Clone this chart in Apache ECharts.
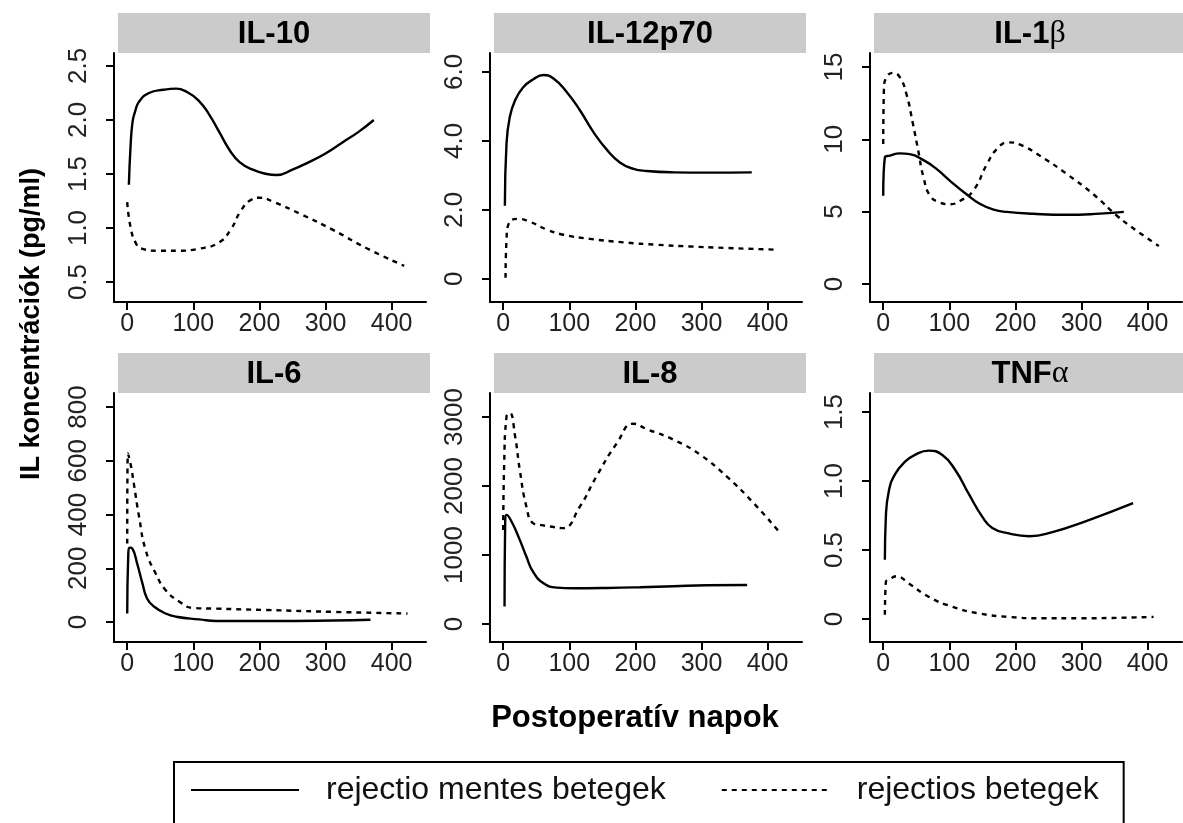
<!DOCTYPE html>
<html><head><meta charset="utf-8">
<script src="https://cdn.jsdelivr.net/npm/echarts@6/dist/echarts.min.js"></script>
<style>html,body{margin:0;padding:0;background:#fff}#chart{width:1183px;height:823px}</style>
</head><body><div id="chart"></div>
<script>
// ---------- DATA ----------
const panelTitles = ['IL-10', 'IL-12p70', 'IL-1β', 'IL-6', 'IL-8', 'TNFα'];
const seriesNames = ['rejectio mentes betegek', 'rejectios betegek'];
const xTicks = [0, 100, 200, 300, 400];
const xTickLabels = ['0', '100', '200', '300', '400'];

// [postoperative day, concentration]
const il10Solid = [[2.5,1.40],[5,1.75],[8,1.98],[12,2.08],[18,2.17],[33,2.25],[55,2.28],[74,2.29],[90,2.26],[108,2.18],[124,2.05],[140,1.88],[155,1.72],[170,1.61],[190,1.54],[211,1.50],[226,1.49],[250,1.54],[275,1.61],[300,1.69],[325,1.79],[350,1.89],[373,2.00]];
const il10Dashed = [[0,1.24],[5,1.01],[13,0.86],[22,0.81],[45,0.79],[75,0.79],[110,0.81],[140,0.87],[157,0.99],[172,1.16],[187,1.26],[200,1.28],[222,1.24],[262,1.13],[312,0.98],[363,0.81],[419,0.65]];

const il12Solid = [[2.5,2.12],[5,3.93],[10,4.70],[18,5.18],[30,5.55],[45,5.78],[61,5.91],[76,5.81],[96,5.42],[116,4.89],[136,4.27],[157,3.74],[177,3.37],[197,3.19],[217,3.13],[258,3.09],[308,3.08],[376,3.09]];
const il12Dashed = [[3.5,0.03],[5,1.14],[8.6,1.62],[23,1.74],[40,1.66],[66,1.43],[91,1.28],[131,1.16],[182,1.06],[232,0.99],[283,0.94],[333,0.90],[409,0.85]];

const il1bSolid = [[0,6.09],[2.5,8.75],[10,8.87],[25,9.03],[40,8.98],[61,8.56],[81,7.94],[101,7.13],[126,6.20],[146,5.55],[167,5.14],[187,4.98],[227,4.85],[278,4.78],[328,4.86],[364,4.98]];
const il1bDashed = [[0,9.68],[1,13.4],[5,14.3],[15,14.6],[25,14.3],[35,13.15],[45,11.06],[53,9.21],[61,7.36],[71,6.09],[86,5.63],[101,5.51],[116,5.74],[136,6.44],[157,8.29],[172,9.33],[189,9.79],[207,9.63],[237,8.87],[278,7.59],[318,6.20],[354,4.70],[384,3.66],[417,2.62]];

const il6Solid = [[0,32],[1.5,243],[4,277],[7.6,274],[15,218],[23,144],[30,88],[41,57],[58,32],[74,20],[109,10],[135,4],[211,4],[312,6],[368,9]];
const il6Dashed = [[0,292],[1,627],[5,589],[10,515],[18,391],[28,267],[43,181],[58,119],[79,76],[99,53],[135,50],[211,45],[312,38],[424,32]];

const il8Solid = [[2,252],[3,1500],[5,1582],[12.6,1485],[25,1219],[35,977],[45,760],[61,590],[81,527],[106,518],[157,522],[207,532],[258,547],[308,561],[369,566]];
const il8Dashed = [[0,1364],[1.5,2332],[5,3009],[10,3058],[18,2719],[25,2235],[35,1703],[45,1461],[56,1437],[71,1413],[90,1389],[116,1703],[141,2138],[172,2622],[197,2903],[217,2825],[258,2670],[298,2453],[338,2138],[379,1751],[417,1340]];

const tnfSolid = [[2.5,0.43],[4,0.74],[8.6,0.93],[18,1.05],[33,1.14],[48,1.19],[69,1.22],[89,1.19],[109,1.08],[129,0.91],[150,0.74],[165,0.66],[190,0.62],[221,0.60],[256,0.63],[307,0.71],[378,0.84]];
const tnfDashed = [[2.5,0.03],[4,0.27],[7.6,0.28],[20,0.31],[38,0.26],[69,0.16],[104,0.09],[145,0.04],[190,0.015],[241,0.005],[297,0.005],[409,0.015]];

const il10Ticks = [0.5, 1, 1.5, 2, 2.5];
const il10TickLabels = ['0.5', '1.0', '1.5', '2.0', '2.5'];
const il12Ticks = [0, 2, 4, 6];
const il12TickLabels = ['0', '2.0', '4.0', '6.0'];
const il1bTicks = [0, 5, 10, 15];
const il1bTickLabels = ['0', '5', '10', '15'];
const il6Ticks = [0, 200, 400, 600, 800];
const il6TickLabels = ['0', '200', '400', '600', '800'];
const il8Ticks = [0, 1000, 2000, 3000];
const il8TickLabels = ['0', '1000', '2000', '3000'];
const tnfTicks = [0, 0.5, 1, 1.5];
const tnfTickLabels = ['0', '0.5', '1.0', '1.5'];

// ---------- BUILD ----------
const solids = [il10Solid, il12Solid, il1bSolid, il6Solid, il8Solid, tnfSolid];
const dasheds = [il10Dashed, il12Dashed, il1bDashed, il6Dashed, il8Dashed, tnfDashed];
const yTicks = [il10Ticks, il12Ticks, il1bTicks, il6Ticks, il8Ticks, tnfTicks];
const yTickLabels = [il10TickLabels, il12TickLabels, il1bTickLabels, il6TickLabels, il8TickLabels, tnfTickLabels];
// axis extents (layout)
const yExtents = [[0.315, 2.62], [-0.67, 6.55], [-1.25, 15.97], [-74, 852], [-261, 3348], [-0.167, 1.638]];
const xExtent = [-20, 452];

const FONT = "'Liberation Sans', Arial, Helvetica, sans-serif";
const colLeft = [114, 490, 870];
const rowTop = [53, 393];
const GW = 312, GH = 249;

const grids = [], xAxes = [], yAxes = [], series = [], graphics = [];
for (let i = 0; i < 6; i++) {
  const c = i % 3, r = Math.floor(i / 3);
  grids.push({ left: colLeft[c], top: rowTop[r], width: GW, height: GH, containLabel: false });
  xAxes.push({
    type: 'value', gridIndex: i, min: xExtent[0], max: xExtent[1],
    splitLine: { show: false },
    axisLine: { show: true, onZero: false, lineStyle: { color: '#000', width: 2 } },
    axisTick: { show: true, length: 8, customValues: xTicks, lineStyle: { color: '#000', width: 2 } },
    axisLabel: { customValues: xTicks, margin: 10, fontSize: 25, fontFamily: FONT, color: '#222',
      formatter: v => xTickLabels[xTicks.indexOf(v)] ?? '' }
  });
  const ticks = yTicks[i], labs = yTickLabels[i];
  yAxes.push({
    type: 'value', gridIndex: i, min: yExtents[i][0], max: yExtents[i][1],
    splitLine: { show: false },
    axisLine: { show: true, onZero: false, lineStyle: { color: '#000', width: 2 } },
    axisTick: { show: true, length: 8, customValues: ticks, lineStyle: { color: '#000', width: 2 } },
    axisLabel: { customValues: ticks, rotate: 90, margin: 22, fontSize: 26, fontFamily: FONT, color: '#222',
      formatter: v => { const k = ticks.findIndex(t => Math.abs(t - v) < 1e-9); return k >= 0 ? labs[k] : ''; } }
  });
  series.push({
    type: 'line', name: seriesNames[0], xAxisIndex: i, yAxisIndex: i, data: solids[i],
    symbol: 'none', showSymbol: false, smooth: 0.5,
    itemStyle: { color: '#000' }, lineStyle: { color: '#000', width: 2.4, type: 'solid' }
  });
  series.push({
    type: 'line', name: seriesNames[1], xAxisIndex: i, yAxisIndex: i, data: dasheds[i],
    symbol: 'none', showSymbol: false, smooth: 0.5,
    itemStyle: { color: '#000' }, lineStyle: { color: '#000', width: 2.4, type: [5, 5] }
  });
  // strip header
  const sx = colLeft[c] + 4, sy = rowTop[r] - 40;
  graphics.push({ type: 'rect', shape: { x: sx, y: sy, width: GW, height: 40 }, style: { fill: '#cbcbcb' }, silent: true });
  const t = panelTitles[i];
  let txt;
  const last = t.slice(-1);
  if (last === 'β' || last === 'α') txt = '{b|' + t.slice(0, -1) + '}{g|' + last + '}';
  else txt = '{b|' + t + '}';
  graphics.push({
    type: 'text', x: sx + GW / 2, y: sy + 21, silent: true,
    style: {
      text: txt, align: 'center', verticalAlign: 'middle',
      rich: {
        b: { fontFamily: FONT, fontWeight: 'bold', fontSize: 31, fill: '#000' },
        g: { fontFamily: "'Liberation Serif', 'DejaVu Serif', serif", fontSize: 32, fill: '#000' }
      }
    }
  });
}
graphics.push({
  type: 'text', x: 32, y: 324, rotation: Math.PI / 2, silent: true,
  style: { text: 'IL koncentrációk (pg/ml)', align: 'center', verticalAlign: 'middle',
    fontFamily: FONT, fontWeight: 'bold', fontSize: 27, fill: '#000' }
});
graphics.push({
  type: 'text', x: 635, y: 718, silent: true,
  style: { text: 'Postoperatív napok', align: 'center', verticalAlign: 'middle',
    fontFamily: FONT, fontWeight: 'bold', fontSize: 31, fill: '#000' }
});

const chart = echarts.init(document.getElementById('chart'), null, { renderer: 'canvas' });
chart.setOption({
  animation: false,
  backgroundColor: '#fff',
  grid: grids, xAxis: xAxes, yAxis: yAxes, series: series,
  legend: {
    data: seriesNames, left: 174, top: 762, orient: 'horizontal',
    itemWidth: 108, itemHeight: 14, itemGap: 55,
    padding: [12, 25, 40, 16], borderColor: '#000', borderWidth: 2,
    selectedMode: false,
    itemStyle: { color: 'rgba(0,0,0,0)', borderColor: 'rgba(0,0,0,0)', borderWidth: 0 },
    lineStyle: { color: '#000', width: 2 },
    textStyle: { fontSize: 32, fontFamily: FONT, color: '#111', padding: [0, 0, 0, 22] }
  },
  graphic: graphics
});
</script></body></html>
